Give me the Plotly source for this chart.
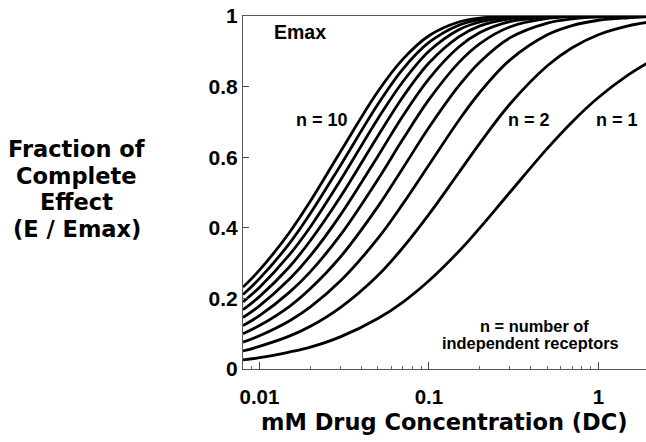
import plotly.graph_objects as go

# drug concentration (mM) where the curves were read
dc = [0.008, 0.01, 0.015, 0.02, 0.03, 0.05, 0.07, 0.1, 0.15, 0.2, 0.3, 0.5, 0.7, 1.0, 1.5, 2.0]

# fraction of complete effect, one list per number of receptors
n1 = [0.026, 0.032, 0.048, 0.062, 0.091, 0.143, 0.189, 0.250, 0.333, 0.400, 0.500, 0.625, 0.700, 0.769, 0.833, 0.870]
n2 = [0.051, 0.064, 0.093, 0.121, 0.174, 0.265, 0.343, 0.438, 0.556, 0.640, 0.750, 0.859, 0.910, 0.947, 0.972, 0.983]
n3 = [0.076, 0.094, 0.136, 0.176, 0.249, 0.370, 0.467, 0.578, 0.704, 0.784, 0.875, 0.947, 0.973, 0.988, 0.995, 0.998]
n4 = [0.100, 0.123, 0.177, 0.228, 0.317, 0.460, 0.568, 0.684, 0.802, 0.870, 0.938, 0.980, 0.992, 0.997, 0.999, 1.000]
n5 = [0.123, 0.151, 0.217, 0.276, 0.379, 0.537, 0.650, 0.763, 0.868, 0.922, 0.969, 0.993, 0.998, 0.999, 1.000, 1.000]
n6 = [0.146, 0.179, 0.254, 0.321, 0.436, 0.603, 0.716, 0.822, 0.912, 0.953, 0.984, 0.997, 0.999, 1.000, 1.000, 1.000]
n7 = [0.168, 0.205, 0.289, 0.364, 0.487, 0.660, 0.770, 0.867, 0.941, 0.972, 0.992, 0.999, 1.000, 1.000, 1.000, 1.000]
n8 = [0.190, 0.231, 0.323, 0.403, 0.534, 0.709, 0.813, 0.900, 0.961, 0.983, 0.996, 1.000, 1.000, 1.000, 1.000, 1.000]
n9 = [0.211, 0.256, 0.355, 0.441, 0.576, 0.750, 0.849, 0.925, 0.974, 0.990, 0.998, 1.000, 1.000, 1.000, 1.000, 1.000]
n10 = [0.232, 0.280, 0.386, 0.476, 0.615, 0.786, 0.877, 0.944, 0.983, 0.994, 0.999, 1.000, 1.000, 1.000, 1.000, 1.000]

curves = [n1, n2, n3, n4, n5, n6, n7, n8, n9, n10]

x_ticks = [0.01, 0.1, 1]
x_tick_text = ['0.01', '0.1', '1']
y_ticks = [0, 0.2, 0.4, 0.6, 0.8, 1]

W, H = 646, 442
L, R, T, B = 243, 0, 16, 73

TITLE_FONT = 'DejaVu Sans'
NUM_FONT = 'Liberation Sans, Arial, sans-serif'


def px(x, y):
    # pixel position -> paper coordinates
    return (x - L) / (W - L - R), (H - B - y) / (H - T - B)


fig = go.Figure()
for i, ys in enumerate(curves):
    fig.add_trace(go.Scatter(
        x=dc, y=ys, mode='lines', name=f'n = {i + 1}',
        line=dict(color='black', width=2.8, shape='spline', smoothing=1.0),
        showlegend=False,
    ))

annots = [
    ('Emax', 300, 32, NUM_FONT, 19.5),
    ('n = 10', 322, 120, NUM_FONT, 18),
    ('n = 2', 529, 120, NUM_FONT, 18),
    ('n = 1', 617, 120, NUM_FONT, 18),
    ('n = number of', 534, 326, NUM_FONT, 16.4),
    ('independent receptors', 530, 343, NUM_FONT, 16.4),
    ('Fraction of', 76.5, 149, TITLE_FONT, 22.5),
    ('Complete', 76.5, 176, TITLE_FONT, 22.5),
    ('Effect', 76.5, 202, TITLE_FONT, 22.5),
    ('(E / Emax)', 76.5, 229, TITLE_FONT, 22.5),
    ('mM Drug Concentration (DC)', 444, 422, TITLE_FONT, 22.5),
]
for text, ax, ay, fam, size in annots:
    xp, yp = px(ax, ay)
    fig.add_annotation(
        text=text, x=xp, y=yp, xref='paper', yref='paper',
        xanchor='center', yanchor='middle', showarrow=False,
        font=dict(family=fam, size=size, color='black', weight='bold'),
    )

minor_vals = [m * 10 ** e for e in (-3, -2, -1, 0) for m in range(2, 10)]

fig.update_layout(
    width=W, height=H,
    margin=dict(l=L, r=R, t=T, b=B, autoexpand=False),
    plot_bgcolor='white',
    paper_bgcolor='white',
    xaxis=dict(
        type='log',
        range=[-2.097, 0.281],
        tickvals=x_ticks,
        ticktext=x_tick_text,
        ticks='inside',
        ticklen=7,
        tickcolor='#444',
        showline=True,
        linecolor='#555',
        linewidth=1,
        mirror=True,
        showgrid=False,
        zeroline=False,
        automargin=False,
        ticklabelstandoff=9,
        tickfont=dict(family=NUM_FONT, size=20.5, color='black', weight='bold'),
        minor=dict(ticks='inside', ticklen=3, tickvals=minor_vals,
                   tickcolor='#666', showgrid=False),
    ),
    yaxis=dict(
        range=[0, 1],
        tickvals=y_ticks,
        ticks='inside',
        ticklen=6,
        tickcolor='#444',
        showline=True,
        linecolor='#555',
        linewidth=1,
        showgrid=False,
        zeroline=False,
        automargin=False,
        ticklabelstandoff=0,
        tickfont=dict(family=NUM_FONT, size=21, color='black', weight='bold'),
    ),
)

# the page's default body margin would shift the figure by 8px
fig.write_html('out.html', config={'displayModeBar': False},
               post_script="document.body.style.margin='0';")
